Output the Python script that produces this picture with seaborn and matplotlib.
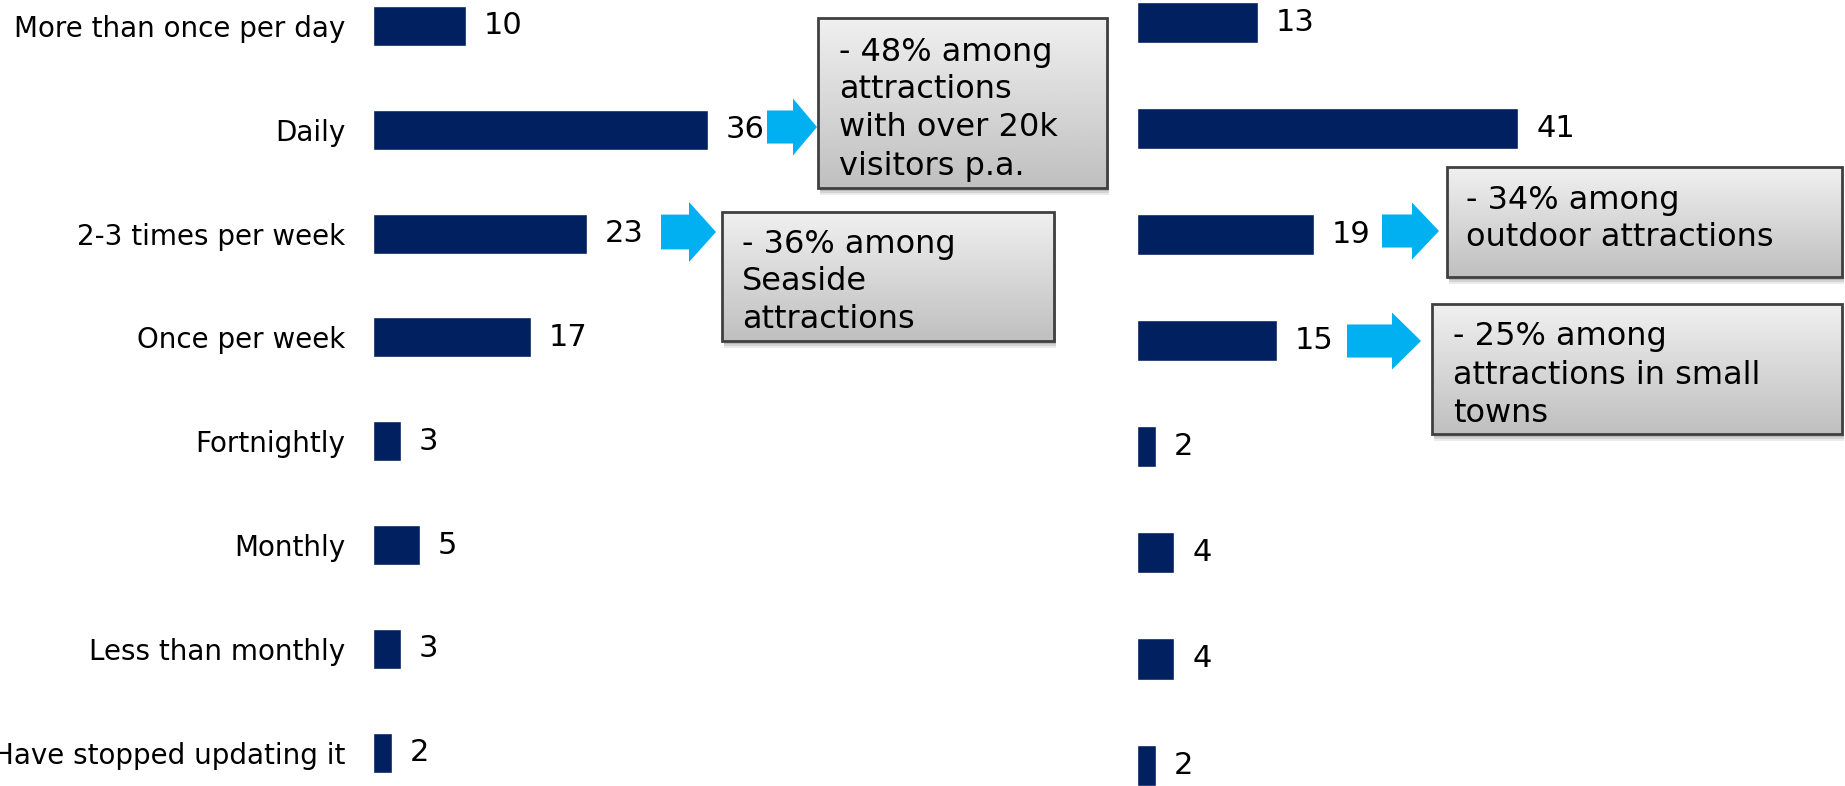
import numpy as np
import pandas as pd
import matplotlib
matplotlib.use("Agg")
import matplotlib.pyplot as plt
import seaborn as sns
from matplotlib.patches import Polygon, Rectangle

categories = ["More than once per day", "Daily", "2-3 times per week", "Once per week",
              "Fortnightly", "Monthly", "Less than monthly", "Have stopped updating it"]
left_values = [10, 36, 23, 17, 3, 5, 3, 2]
right_values = [13, 41, 19, 15, 2, 4, 4, 2]

notes = [
    ["- 48% among", "attractions", "with over 20k", "visitors p.a."],
    ["- 36% among", "Seaside", "attractions"],
    ["- 34% among", "outdoor attractions"],
    ["- 25% among", "attractions in small", "towns"],
]

BAR = "#002060"
ARROW = "#00B0F0"

sns.set_theme(style="white")
plt.rcParams['font.family'] = ['DejaVu Sans']

W, H = 1845, 786
fig = plt.figure(figsize=(W / 100, H / 100), dpi=100)
fig.patch.set_facecolor("white")

pxu = 9.3  # pixels per unit

# left panel
axL = fig.add_axes([373 / W, 0, 558 / W, 1])
dfL = pd.DataFrame({"cat": categories, "val": left_values})
sns.barplot(data=dfL, x="val", y="cat", orient="h", color=BAR, width=0.385,
            saturation=1, ax=axL)
axL.set_xlim(0, 558 / pxu)
axL.set_ylim(7.32, -0.25)
axL.bar_label(axL.containers[0], padding=13, fontsize=22, color="black")
axL.set_xlabel("")
axL.set_ylabel("")
axL.set_xticks([])
axL.tick_params(axis="y", length=0, pad=20, labelsize=20, labelcolor="black")
for s in axL.spines.values():
    s.set_visible(False)
axL.patch.set_alpha(0)

# right panel
axR = fig.add_axes([1137 / W, 0, (W - 1137) / W, 1])
dfR = pd.DataFrame({"cat": categories, "val": right_values})
sns.barplot(data=dfR, x="val", y="cat", orient="h", color=BAR, width=0.387,
            saturation=1, ax=axR)
axR.set_xlim(0, (W - 1137) / pxu)
axR.set_ylim(7.197, -0.211)
axR.bar_label(axR.containers[0], padding=13, fontsize=22, color="black")
axR.set_xlabel("")
axR.set_ylabel("")
axR.set_xticks([])
axR.set_yticks([])
for s in axR.spines.values():
    s.set_visible(False)
axR.patch.set_alpha(0)

# overlay for callouts (pixel coordinates)
ov = fig.add_axes([0, 0, 1, 1], zorder=10)
ov.set_xlim(0, W)
ov.set_ylim(H, 0)
ov.axis("off")
ov.patch.set_alpha(0)

grad = np.linspace(0.94, 0.75, 256).reshape(-1, 1)

def callout(x0, x1, y0, y1, lines, tx, ty0, step):
    for k, a in [(7, 0.08), (5, 0.10), (3, 0.12)]:
        ov.add_patch(Rectangle((x0 + 2, y0 + k), x1 - x0, y1 - y0,
                               facecolor="black", alpha=a, edgecolor="none", zorder=1))
    ov.imshow(grad, cmap="gray", vmin=0, vmax=1, extent=(x0, x1, y1, y0),
              aspect="auto", zorder=2, interpolation="bicubic")
    ov.add_patch(Rectangle((x0, y0), x1 - x0, y1 - y0, facecolor="none",
                           edgecolor="#404040", linewidth=2, zorder=3))
    for i, ln in enumerate(lines):
        ov.text(tx, ty0 + i * step, ln, fontsize=23, color="black",
                ha="left", va="center", zorder=4)

def block_arrow(xs, xh, xt, yc, h):
    sh = h * 0.29
    hh = h / 2
    pts = [(xs, yc - sh), (xh, yc - sh), (xh, yc - hh), (xt, yc),
           (xh, yc + hh), (xh, yc + sh), (xs, yc + sh)]
    ov.add_patch(Polygon(pts, closed=True, facecolor=ARROW, edgecolor="none", zorder=5))

callout(818, 1107, 18, 188, notes[0], 839, 52, 38)
callout(722, 1054, 212, 341, notes[1], 742, 244, 38)
callout(1447, 1842, 167, 277, notes[2], 1466, 200, 38)
callout(1432, 1842, 304, 434, notes[3], 1453, 337, 38)

block_arrow(767, 793, 817, 127, 57)
block_arrow(661, 689, 716, 232, 60)
block_arrow(1382, 1412, 1439, 231, 57)
block_arrow(1347, 1392, 1421, 341, 57)

ov.set_xlim(0, W)
ov.set_ylim(H, 0)

fig.savefig("out.png", dpi=100, facecolor="white")
